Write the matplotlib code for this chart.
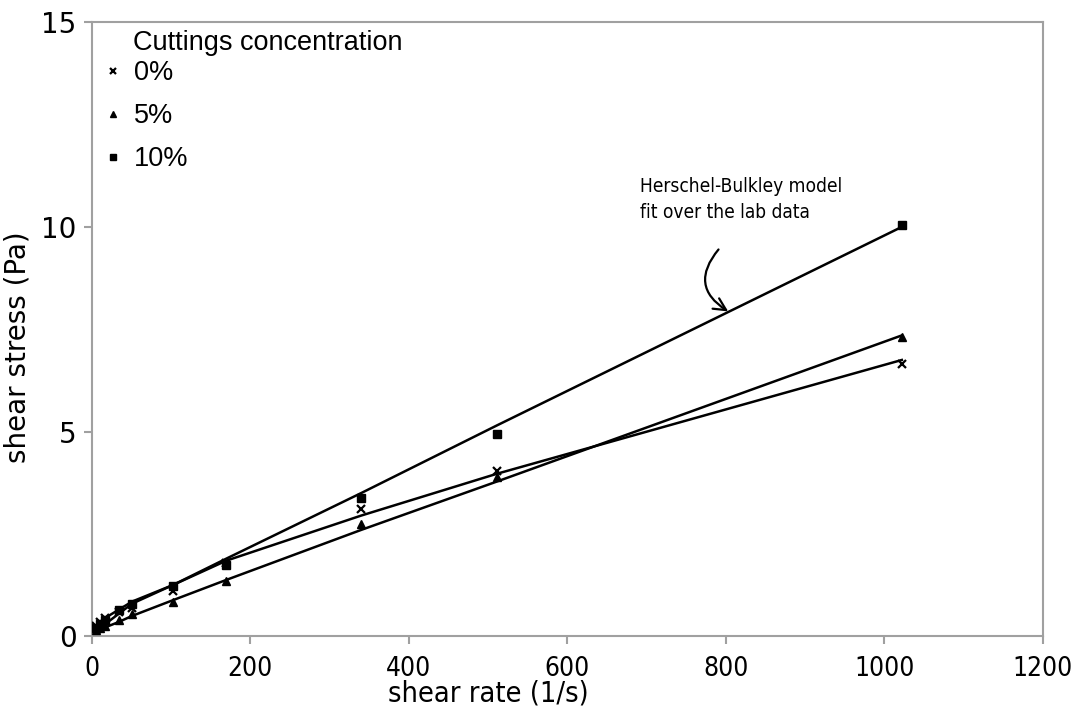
import matplotlib.pyplot as plt
from matplotlib import font_manager
import numpy as np

# shear rates of the viscometer readings (1/s)
shear_rate = [5.1, 10.2, 17, 34, 51, 102, 170, 340, 511, 1022]

# measured shear stress (Pa)
stress_0 = [0.25, 0.35, 0.45, 0.6, 0.7, 1.1, 1.8, 3.1, 4.05, 6.65]
stress_5 = [0.15, 0.2, 0.25, 0.4, 0.55, 0.85, 1.35, 2.75, 3.88, 7.3]
stress_10 = [0.2, 0.3, 0.4, 0.65, 0.8, 1.22, 1.75, 3.38, 4.95, 10.05]

# Herschel-Bulkley fit at the same shear rates
fit_0 = [0.25, 0.33, 0.45, 0.65, 0.85, 1.25, 1.85, 2.95, 3.97, 6.75]
fit_5 = [0.1, 0.15, 0.22, 0.35, 0.5, 0.88, 1.38, 2.6, 3.78, 7.35]
fit_10 = [0.12, 0.2, 0.3, 0.55, 0.8, 1.25, 1.9, 3.5, 5.15, 10.0]

labels = ['0%', '5%', '10%']

plt.rcParams['font.family'] = ['Liberation Sans', 'DejaVu Sans']

# pick a narrow face for the condensed labels if one is there
fonts = font_manager.fontManager.ttflist
names = {f.name for f in fonts}
if 'Liberation Sans Narrow' in names:
    narrow = dict(family=['Liberation Sans Narrow'], size_scale=1.05)
elif any(f.name == 'DejaVu Sans' and f.stretch in ('condensed', 600) for f in fonts):
    narrow = dict(family=['DejaVu Sans'], stretch='condensed', size_scale=0.9)
else:
    narrow = dict(family=['Liberation Sans'], size_scale=0.85)


def nfont(size):
    kw = dict(family=narrow['family'], size=size * narrow['size_scale'])
    if 'stretch' in narrow:
        kw['stretch'] = narrow['stretch']
    return kw


fig = plt.figure(figsize=(10.83, 7.15), dpi=100)
ax = fig.add_axes([0.0847, 0.110, 0.8783, 0.859])

for fit in (fit_0, fit_5, fit_10):
    ax.plot(shear_rate, fit, color='black', lw=1.8, zorder=2)

ax.plot(shear_rate, stress_0, 'x', color='black', ms=6, mew=1.6, ls='none', label=labels[0], zorder=3)
ax.plot(shear_rate, stress_5, '^', color='black', ms=6, ls='none', label=labels[1], zorder=3)
ax.plot(shear_rate, stress_10, 's', color='black', ms=6, ls='none', label=labels[2], zorder=3)

ax.set_xlim(0, 1200)
ax.set_ylim(0, 15)
ax.set_xticks(np.arange(0, 1201, 200))
ax.set_yticks([0, 5, 10, 15])

for s in ax.spines.values():
    s.set_color('#a0a0a0')
    s.set_linewidth(1.5)
ax.tick_params(direction='out', length=6, width=1.5, color='#a0a0a0')
ax.tick_params(axis='y', pad=5)
ax.tick_params(axis='x', pad=8)
for t in ax.get_yticklabels():
    t.set_family('DejaVu Sans')
    t.set_fontsize(20)
for t in ax.get_xticklabels():
    t.set(**nfont(21))

ax.set_xlabel('shear rate (1/s)', **nfont(23))
ax.xaxis.set_label_coords(0.417, -0.093)
ax.xaxis.label.set_va('center')
ax.set_ylabel('shear stress (Pa)', fontsize=20, family='DejaVu Sans')
ax.yaxis.set_label_coords(-0.063, 0.47)

ax.text(0.0434, 0.966, 'Cuttings concentration', transform=ax.transAxes,
        fontsize=19.5, ha='left', va='center')
ax.legend(loc='upper left', frameon=False, fontsize=19.5,
          handlelength=0.6, handletextpad=0.46, labelspacing=0.62,
          borderaxespad=0, borderpad=0, markerscale=0.8,
          bbox_to_anchor=(0.0141, 0.9376))

ax.text(692, 11.22, 'Herschel-Bulkley model\nfit over the lab data',
        ha='left', va='top', linespacing=1.5, **nfont(15.2))
ax.annotate('', xy=(806, 7.9), xytext=(793, 9.5),
            arrowprops=dict(arrowstyle='->', color='black', lw=1.6,
                            mutation_scale=22,
                            connectionstyle='arc3,rad=0.6'))

fig.savefig('out.png', dpi=100)
